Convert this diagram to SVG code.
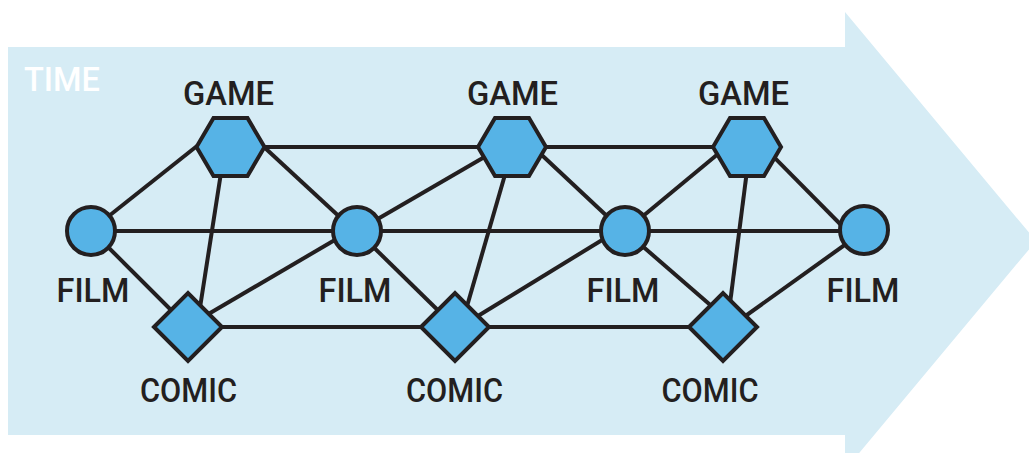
<svg xmlns="http://www.w3.org/2000/svg" width="1029" height="453" viewBox="0 0 1029 453">
<style>
.lbl{font-family:Roboto,"Liberation Sans",sans-serif;font-size:34px;font-weight:500;fill:#231f20;text-anchor:middle}
.time{font-family:Roboto,"Liberation Sans",sans-serif;font-size:34px;font-weight:500;fill:#ffffff}
.shape{fill:#56b3e6;stroke:#231f20;stroke-width:4;stroke-linejoin:miter}
.edge{stroke:#231f20;stroke-width:4;fill:none;stroke-linecap:butt}
</style>
<defs>
<polygon id="hex" points="-34,0 -17,-29 17,-29 34,0 17,29 -17,29"/>
<polygon id="dia" points="-34,0 0,-34 34,0 0,34"/>
</defs>
<polygon id="time-arrow" points="8,47 845,47 845,12 1036,241 845,470 845,435 8,435" fill="#d6ecf5"/>
<text class="time" x="24" y="91" textLength="76" lengthAdjust="spacingAndGlyphs">TIME</text>
<g id="connectors">
<line class="edge" x1="90" y1="231" x2="197" y2="146"/>
<line class="edge" x1="90" y1="231" x2="357" y2="231"/>
<line class="edge" x1="90" y1="229" x2="188" y2="327"/>
<line class="edge" x1="230" y1="147" x2="512" y2="147"/>
<line class="edge" x1="264" y1="147" x2="357" y2="233"/>
<line class="edge" x1="225" y1="147" x2="197" y2="327"/>
<line class="edge" x1="188" y1="326" x2="357" y2="227"/>
<line class="edge" x1="188" y1="327" x2="455" y2="327"/>
<line class="edge" x1="357" y1="231" x2="500" y2="148"/>
<line class="edge" x1="357" y1="231" x2="625" y2="231"/>
<line class="edge" x1="357" y1="231" x2="455" y2="327"/>
<line class="edge" x1="512" y1="147" x2="747" y2="147"/>
<line class="edge" x1="513" y1="147" x2="461" y2="327"/>
<line class="edge" x1="530" y1="144" x2="625" y2="233"/>
<line class="edge" x1="455" y1="327" x2="723" y2="327"/>
<line class="edge" x1="455" y1="330" x2="625" y2="226"/>
<line class="edge" x1="625" y1="231" x2="730" y2="144"/>
<line class="edge" x1="625" y1="231" x2="864" y2="231"/>
<line class="edge" x1="625" y1="231" x2="723" y2="316"/>
<line class="edge" x1="750" y1="147" x2="727" y2="327"/>
<line class="edge" x1="760" y1="143" x2="850" y2="234"/>
<line class="edge" x1="723" y1="332" x2="860" y2="234"/>
</g>
<g id="film1"><circle class="shape" cx="91" cy="231" r="24"/><text class="lbl" x="93" y="302" textLength="73" lengthAdjust="spacingAndGlyphs">FILM</text></g>
<g id="film2"><circle class="shape" cx="357" cy="231" r="24"/><text class="lbl" x="355" y="302" textLength="73" lengthAdjust="spacingAndGlyphs">FILM</text></g>
<g id="film3"><circle class="shape" cx="625" cy="231" r="24"/><text class="lbl" x="623" y="302" textLength="73" lengthAdjust="spacingAndGlyphs">FILM</text></g>
<g id="film4"><circle class="shape" cx="864" cy="230" r="24"/><text class="lbl" x="863" y="302" textLength="73" lengthAdjust="spacingAndGlyphs">FILM</text></g>
<g id="game1"><use href="#hex" class="shape" x="230.5" y="147"/><text class="lbl" x="228.5" y="105" textLength="91" lengthAdjust="spacingAndGlyphs">GAME</text></g>
<g id="game2"><use href="#hex" class="shape" x="512" y="147"/><text class="lbl" x="512.5" y="105" textLength="91" lengthAdjust="spacingAndGlyphs">GAME</text></g>
<g id="game3"><use href="#hex" class="shape" x="747" y="147"/><text class="lbl" x="743.5" y="105" textLength="91" lengthAdjust="spacingAndGlyphs">GAME</text></g>
<g id="comic1"><use href="#dia" class="shape" x="188" y="327"/><text class="lbl" x="188.5" y="402" textLength="97" lengthAdjust="spacingAndGlyphs">COMIC</text></g>
<g id="comic2"><use href="#dia" class="shape" x="455" y="327"/><text class="lbl" x="454.5" y="402" textLength="97" lengthAdjust="spacingAndGlyphs">COMIC</text></g>
<g id="comic3"><use href="#dia" class="shape" x="723" y="327"/><text class="lbl" x="710" y="402" textLength="97" lengthAdjust="spacingAndGlyphs">COMIC</text></g>
</svg>
